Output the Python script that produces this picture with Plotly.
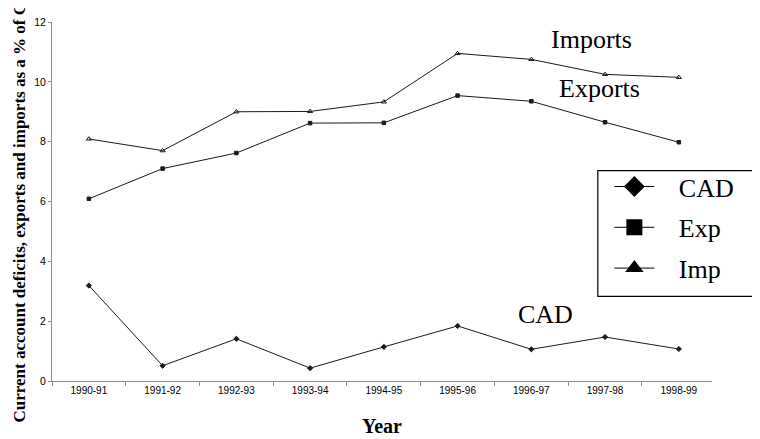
import plotly.graph_objects as go

years = ["1990-91", "1991-92", "1992-93", "1993-94", "1994-95",
         "1995-96", "1996-97", "1997-98", "1998-99"]
cad = [3.19, 0.51, 1.41, 0.43, 1.14, 1.84, 1.06, 1.47, 1.07]
exports = [6.09, 7.10, 7.62, 8.62, 8.63, 9.54, 9.35, 8.65, 7.98]
imports = [8.09, 7.70, 9.00, 9.01, 9.33, 10.95, 10.75, 10.25, 10.15]

y_ticks = [0, 2, 4, 6, 8, 10, 12]

series = [
    ("CAD", cad, "diamond", 4),
    ("Exp", exports, "square", 3.5),
    ("Imp", imports, "triangle-up-open", 4.5),
]
legend_symbols = {"CAD": "diamond", "Exp": "square", "Imp": "triangle-up"}

serif = "Liberation Serif, Times New Roman, serif"
sans = "Liberation Sans, Arial, sans-serif"
ink = "#1a1a1a"

fig = go.Figure()
for name, vals, sym, sz in series:
    fig.add_trace(go.Scatter(
        x=years, y=vals, mode="lines+markers", name=name,
        legendgroup=name, showlegend=False,
        line=dict(color=ink, width=1),
        marker=dict(symbol=sym, size=sz, color=ink,
                    line=dict(color=ink, width=1)),
    ))
for name, vals, sym, sz in series:
    fig.add_trace(go.Scatter(
        x=[None], y=[None], mode="lines+markers",
        name="\u00a0\u00a0\u00a0" + name, legendgroup=name, showlegend=True,
        line=dict(color="black", width=1),
        marker=dict(symbol=legend_symbols[name], size=16, color="black"),
    ))

# series labels
label_font = dict(family=serif, size=26, color="black")
for txt, lx, ly in [("Imports", 0.818, 0.951),
                    ("Exports", 0.829, 0.814),
                    ("CAD", 0.747, 0.186)]:
    fig.add_annotation(x=lx, y=ly, xref="paper", yref="paper",
                       xanchor="center", yanchor="middle",
                       text=txt, showarrow=False, font=label_font)

# axis titles
fig.add_annotation(x=-0.05, y=0.5, xref="paper", yref="paper",
                   xanchor="center", yanchor="middle", textangle=-90,
                   text="<b>Current account deficits, exports and imports as a % of GDP</b>",
                   showarrow=False,
                   font=dict(family=serif, size=17, color="black"))
fig.add_annotation(x=0.5, y=-0.126, xref="paper", yref="paper",
                   xanchor="center", yanchor="middle",
                   text="<b>Year</b>", showarrow=False,
                   font=dict(family=serif, size=20, color="black"))

# legend frame
fig.add_shape(type="rect", xref="paper", yref="paper",
              x0=0.827, x1=1.09, y0=0.236, y1=0.586,
              line=dict(color="black", width=1.2), fillcolor="white",
              layer="below")

fig.update_layout(
    width=760, height=439,
    margin=dict(l=44, r=56, t=8, b=66),
    paper_bgcolor="white", plot_bgcolor="white",
    showlegend=True,
    legend=dict(x=0.8445, y=0.607, xanchor="left", yanchor="top",
                bgcolor="rgba(0,0,0,0)", borderwidth=0,
                font=dict(family=serif, size=26, color="black"),
                itemwidth=40, tracegroupgap=4),
    xaxis=dict(type="category", range=[-0.5, 8.45],
               showgrid=False, zeroline=False,
               showline=True, linecolor="#8c8c8c", linewidth=1,
               ticks="outside", tickson="boundaries", ticklen=4,
               tickcolor="#8c8c8c",
               tickfont=dict(family=sans, size=10, color="black")),
    yaxis=dict(range=[0, 12], tickvals=y_ticks,
               showgrid=False, zeroline=False,
               showline=True, linecolor="#8c8c8c", linewidth=1,
               ticks="outside", ticklen=3, tickcolor="#8c8c8c",
               tickfont=dict(family=sans, size=10.5, color="black")),
)

fig.write_html("out.html")
